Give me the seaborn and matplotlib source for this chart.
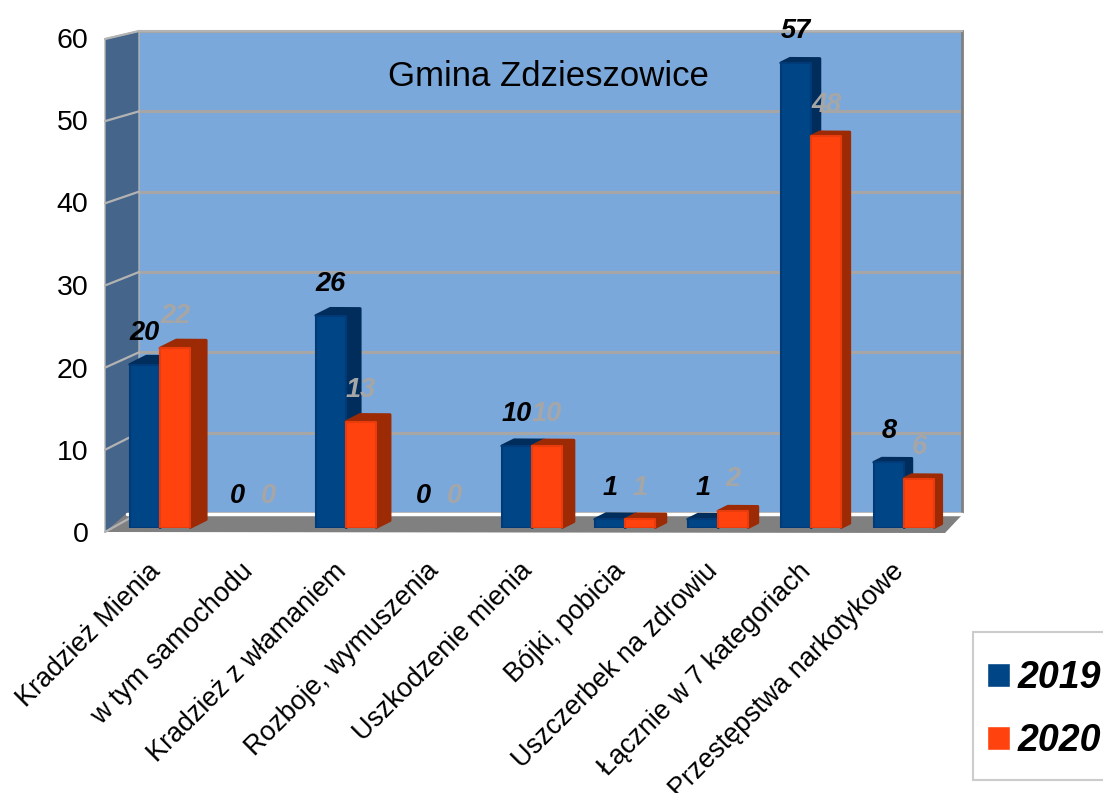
import pandas as pd
import matplotlib
matplotlib.use('Agg')
import matplotlib.pyplot as plt
import seaborn as sns
from matplotlib.patches import Polygon, Rectangle
from matplotlib.lines import Line2D
from matplotlib.transforms import ScaledTranslation

categories = ['Kradzież Mienia', 'w tym samochodu', 'Kradzież z włamaniem',
              'Rozboje, wymuszenia', 'Uszkodzenie mienia', 'Bójki, pobicia',
              'Uszczerbek na zdrowiu', 'Łącznie w 7 kategoriach',
              'Przestępstwa narkotykowe']
values_2019 = [20, 0, 26, 0, 10, 1, 1, 57, 8]
values_2020 = [22, 0, 13, 0, 10, 1, 2, 48, 6]
y_ticks = [0, 10, 20, 30, 40, 50, 60]

W, H = 1103, 793

df = pd.DataFrame({
    'kategoria': categories * 2,
    'rok': ['2019'] * len(categories) + ['2020'] * len(categories),
    'liczba': values_2019 + values_2020,
})

sns.set_style('white')
plt.rcParams['font.family'] = ['Liberation Sans', 'DejaVu Sans']
plt.rcParams['text.color'] = 'black'

fig = plt.figure(figsize=(W / 100, H / 100), dpi=100)


def box(left, top, right, bottom):
    return [left / W, 1 - bottom / H, (right - left) / W, (bottom - top) / H]


def px_poly(points, **kw):
    fig.add_artist(Polygon([(x / W, 1 - y / H) for x, y in points],
                           transform=fig.transFigure, **kw))


# back wall with the gridlines
ax_wall = fig.add_axes(box(139, 31, 962, 513), zorder=0)
ax_wall.set_facecolor('#7BA8DA')
ax_wall.set_xlim(0, 1)
ax_wall.set_ylim(0, 60)
ax_wall.set_xticks([])
ax_wall.set_yticks(y_ticks)
ax_wall.tick_params(left=False, labelleft=False)
ax_wall.grid(axis='y', color='#A6A6A6', lw=2.2)
ax_wall.set_axisbelow(True)
for s in ax_wall.spines.values():
    s.set_visible(False)
ax_wall.spines['top'].set_visible(True)
ax_wall.spines['top'].set_color('#B3B3B3')
ax_wall.spines['top'].set_linewidth(1.5)
ax_wall.spines['right'].set_visible(True)
ax_wall.spines['right'].set_color('#808080')
ax_wall.spines['right'].set_linewidth(2)
ax_wall.text(0.497, 0.905, 'Gmina Zdzieszowice', transform=ax_wall.transAxes,
             ha='center', va='center', fontsize=25, color='black')

# left axis on the front plane
ax_left = fig.add_axes(box(105, 37.5, 105.5, 532.5), zorder=1)
ax_left.patch.set_alpha(0)
ax_left.set_ylim(0, 60)
ax_left.set_xticks([])
ax_left.set_yticks(y_ticks)
ax_left.tick_params(axis='y', left=True, length=0, pad=12, labelsize=20.5, labelcolor='black')
for s in ax_left.spines.values():
    s.set_visible(False)

# side wall and floor
px_poly([(105, 39), (139, 31), (139, 513), (105, 532)], fc='#46658A', ec='#B3B3B3', lw=1, zorder=1)
px_poly([(105, 532), (127, 513), (962, 515), (945, 533)], fc='#808080', ec='none', zorder=1)
fig.add_artist(Line2D([127 / W, 962 / W], [1 - 513.5 / H, 1 - 513.5 / H],
                      color='white', lw=2.5, zorder=1))
for t in y_ticks:
    y_front = 532 - (532 - 39) * t / 60
    y_back = 513 - (513 - 31) * t / 60
    fig.add_artist(Line2D([105 / W, 139 / W], [1 - y_front / H, 1 - y_back / H],
                          color='#B3B3B3', lw=1.6, zorder=1))

# bars
ax = fig.add_axes(box(113.5, 38.5, 950.5, 527.5), zorder=4)
ax.patch.set_alpha(0)
palette = {'2019': '#004586', '2020': '#FF420E'}
sns.barplot(data=df, x='kategoria', y='liczba', hue='rok', palette=palette,
            width=0.65, gap=0, saturation=1, errorbar=None, ax=ax)
ax.set_ylim(0, 60)
ax.set_xlim(-0.5, len(categories) - 0.5)
ax.set_xlabel('')
ax.set_ylabel('')
ax.set_yticks([])
sns.despine(ax=ax, left=True, bottom=True)
ax.tick_params(axis='x', length=0, pad=22)
shift = ScaledTranslation(-13 / 100, 0, fig.dpi_scale_trans)
for label in ax.get_xticklabels():
    label.set_rotation(45)
    label.set_ha('right')
    label.set_rotation_mode('anchor')
    label.set_fontsize(19.4)
    label.set_color('black')
    label.set_transform(label.get_transform() + shift)


# the picture has some perspective, bars on the right show less of their side
def depth(x):
    d = 16.3 - 1.06 * x
    return d / 93, 0.5 * d / 8.15


shades = ['#002D5C', '#9C2A05']
edges = ['#003B78', '#E83C0C']
label_colors = ['black', '#A6A6A6']
for i, cont in enumerate(ax.containers):
    for bar in cont:
        x0 = bar.get_x()
        x1 = x0 + bar.get_width()
        h = bar.get_height()
        bar.set_zorder(3 + 2 * i)
        if h == 0:
            bar.set_visible(False)
            continue
        bar.set_edgecolor(edges[i])
        bar.set_linewidth(1.5)
        bar.set_joinstyle('round')
        dx0, dy0 = depth(x0)
        dx1, dy1 = depth(x1)
        side = Polygon([(x1, 0), (x1 + dx1, dy1), (x1 + dx1, h + dy1),
                        (x0 + dx0, h + dy0), (x0, h), (x1, h)],
                       fc=shades[i], ec=shades[i], lw=2, joinstyle='round',
                       clip_on=False, zorder=2 + 2 * i)
        ax.add_patch(side)
    ax.bar_label(cont, fmt='%g', padding=13.5, fontsize=19.5, fontweight='bold',
                 fontstyle='italic', color=label_colors[i], zorder=10)

# legend box runs off the right edge like in the picture
fig.add_artist(Rectangle((973 / W, 1 - 780 / H), 135 / W, 148 / H, transform=fig.transFigure,
                         fc='white', ec='#CCCCCC', lw=1.5, zorder=3))
sns.move_legend(ax, 'upper left', bbox_to_anchor=(973 / W, 1 - 646 / H),
                bbox_transform=fig.transFigure, title=None, frameon=False,
                fontsize=27, handlelength=0.6, handleheight=0.6, handletextpad=0.2,
                labelspacing=0.72, borderaxespad=0, borderpad=0.38)
leg = ax.get_legend()
leg.set_zorder(20)
for txt in leg.get_texts():
    txt.set_fontweight('bold')
    txt.set_fontstyle('italic')
    txt.set_color('black')

plt.savefig('out.png', dpi=100)
plt.close()
